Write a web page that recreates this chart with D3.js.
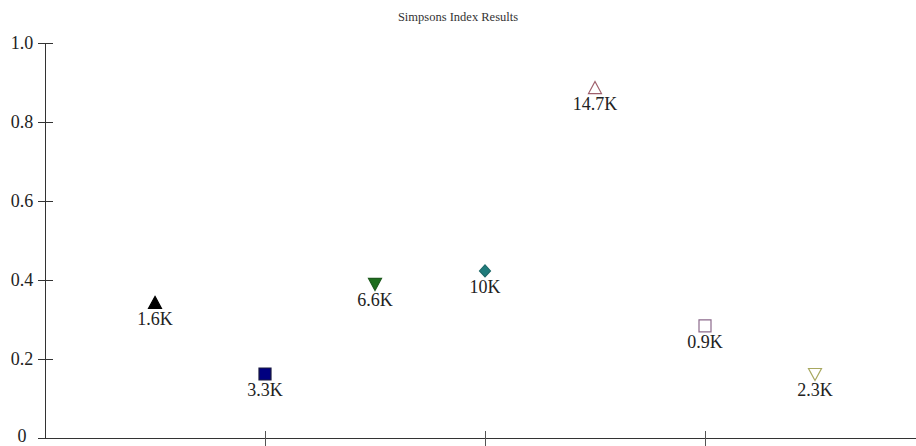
<html>
    <head>
        <meta charset="utf-8">
        <title>Simpsons Index Results</title>
        <style type="text/css">
            body { margin: 0; background: #fff; }
            text { font-family: "Liberation Serif", "Times New Roman", serif; }
        </style>
        <script src="https://d3js.org/d3.v7.min.js"></script>
    </head>
    <body>
    	<svg width="916" height="446"></svg>
    	<script>
		// data
		var sampleX = [0.5, 1, 1.5, 2, 2.5, 3, 3.5];
		var simpson = [0.342, 0.162, 0.39, 0.423, 0.886, 0.284, 0.162];
		var sizeLabels = ["1.6K", "3.3K", "6.6K", "10K", "14.7K", "0.9K", "2.3K"];
		var shapes = ["triUp", "square", "triDown", "diamond", "triUp", "square", "triDown"];
		var fills = ["#000000", "#000080", "#1d6e1d", "#1f7c7c", "none", "none", "none"];
		var strokes = ["#000000", "#1a1a40", "#1d5a1d", "#1f6a6a", "#a0606c", "#8c6a8c", "#a8a860"];
		var yTicks = [0, 0.2, 0.4, 0.6, 0.8, 1.0];
		var xTicks = [1, 2, 3];

		var svg = d3.select("svg"),
		    x0 = 45, x1 = 916, yTop = 43, yBase = 438;

		var xScale = d3.scaleLinear().domain([0, (x1 - x0) / 220]).range([x0, x1]);
		var yScale = d3.scaleLinear().domain([0, 1]).range([yBase, yTop]);

		var shapePath = {
			triUp: "M0,-6.5L6.5,5.5L-6.5,5.5Z",
			triDown: "M0,6.5L6.5,-5.5L-6.5,-5.5Z",
			square: "M-6,-6H6V6H-6Z",
			diamond: "M0,-6L5.5,0L0,6L-5.5,0Z"
		};

		svg.append("text")
			.attr("x", 458)
			.attr("y", 21)
			.attr("text-anchor", "middle")
			.style("font-size", "12.5px")
			.attr("fill", "#333")
			.text("Simpsons Index Results");

		// y axis
		var yAxis = svg.append("g")
			.attr("transform", `translate(${x0},0)`)
			.call(d3.axisLeft(yScale).tickValues(yTicks).tickSizeInner(0).tickSizeOuter(0)
				.tickFormat(d => d === 0 ? "0" : d3.format(".1f")(d)));
		yAxis.select(".domain").attr("stroke", "#333");
		yAxis.selectAll(".tick line").attr("x1", -7).attr("x2", 8).attr("stroke", "#333");
		yAxis.selectAll(".tick text")
			.attr("x", -23)
			.attr("dy", d => d === 0 ? "0.2em" : "0.32em")
			.attr("text-anchor", "middle")
			.attr("fill", "#222")
			.style("font-size", "18px")
			.style("font-family", "'Liberation Serif', serif");

		// x axis, no labels
		var xAxis = svg.append("g")
			.attr("transform", `translate(0,${yBase})`)
			.call(d3.axisBottom(xScale).tickValues(xTicks).tickSizeInner(0).tickSizeOuter(0).tickFormat(""));
		xAxis.select(".domain").attr("stroke", "#333");
		xAxis.selectAll(".tick line").attr("y1", -7).attr("y2", 8).attr("stroke", "#555");

		var pts = svg.selectAll(".pt")
			.data(sampleX)
			.enter()
			.append("g")
			.attr("class", "pt")
			.attr("transform", (d, i) => `translate(${xScale(d)},${yScale(simpson[i])})`);

		pts.append("path")
			.attr("d", (d, i) => shapePath[shapes[i]])
			.attr("fill", (d, i) => fills[i])
			.attr("stroke", (d, i) => strokes[i])
			.attr("stroke-width", 1.2);

		pts.append("text")
			.attr("y", 22)
			.attr("text-anchor", "middle")
			.attr("fill", "#222")
			.style("font-size", "18px")
			.text((d, i) => sizeLabels[i]);
    	</script>
  </body>
</html>
